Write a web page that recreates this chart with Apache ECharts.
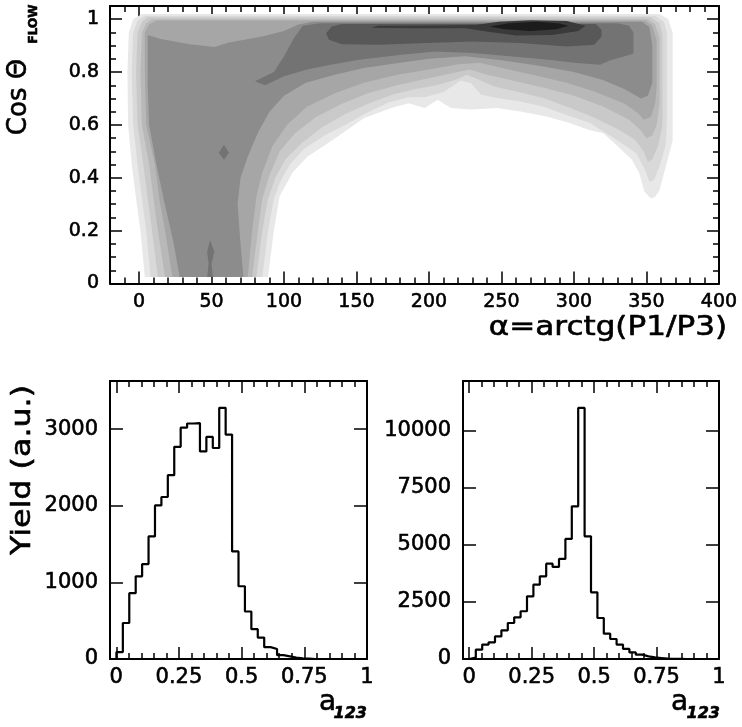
<!DOCTYPE html>
<html><head><meta charset="utf-8">
<script src="https://cdn.jsdelivr.net/npm/echarts@6/dist/echarts.min.js"></script>
<style>html,body{margin:0;padding:0;background:#fff}#c{width:742px;height:727px}</style>
</head><body><div id="c"></div>
<script>
// ---------- tick values ----------
const topXMajor = [0,50,100,150,200,250,300,350,400];
const topXMinor = [-10,10,20,30,40,60,70,80,90,110,120,130,140,160,170,180,190,210,220,230,240,260,270,280,290,310,320,330,340,360,370,380,390];
const topYMajor = [0,0.2,0.4,0.6,0.8,1];
const topYMinor = [0.05,0.1,0.15,0.25,0.3,0.35,0.45,0.5,0.55,0.65,0.7,0.75,0.85,0.9,0.95];
const histXMajor = [0,0.25,0.5,0.75,1];
const histXMinor = [0.05,0.1,0.15,0.2,0.3,0.35,0.4,0.45,0.55,0.6,0.65,0.7,0.8,0.85,0.9,0.95];
const hist1YMajor = [0,1000,2000,3000];
const hist2YMajor = [0,2500,5000,7500,10000];

// ---------- histogram data (40 bins from -0.025 to 1) ----------
const histMin = -0.025, histMax = 1;
const hist1Counts = [0,90,470,860,1080,1240,1600,2005,2115,2400,2770,3020,3075,3080,2710,2900,2755,3280,2930,1405,950,620,390,280,155,130,50,35,20,10,5,0,0,0,0,0,0,0,0,0];
const hist2Counts = [0,60,410,630,730,990,1255,1575,1825,2090,2745,3255,3620,4175,4030,4380,5255,6685,10990,5370,2920,1795,1110,875,630,440,290,190,115,70,45,20,10,5,0,0,0,0,0,0];

// ---------- contour levels: outlines in (alpha, cos) ----------
const levelL1 = [[4,0.025],[1,0.2],[-2,0.32],[-5,0.45],[-7.5,0.6],[-8,0.8],[-7,0.95],[-4,1.0],[2,1.02],
 [359,1.02],[365,1.0],[368,0.95],[368,0.54],[364.6,0.468],[359,0.354],[356,0.328],[353,0.322],
 [348.5,0.348],[345,0.417],[340,0.468],[330,0.52],[320,0.569],[311,0.58],[297,0.607],[281,0.632],[263,0.651],[247,0.664],[229,0.658],[215,0.664],[206,0.695],[197,0.664],[186,0.682],[174,0.664],[155,0.625],[142,0.575],[130,0.53],[116,0.48],[106,0.42],[100,0.36],[97,0.33],[93,0.2],[89,0.025]];
const levelL2 = [[8,0.025],[5,0.2],[2,0.32],[-1,0.45],[-4,0.6],[-5,0.8],[-4,0.95],[-1,0.995],[4,1.013],
 [356,1.013],[362,0.99],[364,0.95],[364,0.6],[363,0.52],[359,0.443],[355,0.39],[352,0.385],
 [349,0.43],[343,0.493],[329,0.545],[311,0.607],[295,0.638],[279,0.669],[263,0.689],[247,0.702],[236,0.714],[229,0.758],[222,0.768],[210,0.725],[197,0.705],[186,0.705],[172,0.685],[157,0.645],[142,0.6],[128,0.56],[114,0.51],[104,0.45],[97,0.38],[93,0.32],[89,0.2],[85,0.025]];
const levelL3 = [[13,0.025],[9,0.2],[6,0.32],[3,0.45],[-1,0.6],[-2,0.8],[-1,0.95],[2,0.99],[6,1.007],
 [353,1.007],[359,0.985],[361,0.94],[361,0.6],[358,0.52],[354,0.47],[351,0.46],
 [348,0.5],[342,0.545],[330,0.585],[313,0.63],[297,0.665],[280,0.7],[262,0.725],[245,0.745],[233,0.775],[226,0.79],[218,0.77],[205,0.75],[190,0.735],[175,0.715],[158,0.68],[142,0.64],[126,0.59],[112,0.53],[101,0.47],[94,0.4],[89,0.32],[85,0.2],[81,0.025]];
const levelL4 = [[18,0.025],[13,0.2],[10,0.32],[7,0.45],[2,0.6],[1,0.8],[2,0.95],[5,0.985],[9,1.0],
 [351,1.0],[356,0.98],[359,0.93],[359,0.68],[357,0.6],[354,0.56],[350,0.55],
 [346,0.58],[338,0.62],[320,0.67],[300,0.71],[280,0.74],[260,0.765],[240,0.79],[228,0.81],[215,0.795],[198,0.775],[178,0.75],[158,0.72],[140,0.68],[122,0.63],[108,0.57],[97,0.5],[90,0.41],[85,0.32],[82,0.2],[78,0.025]];
const levelL5 = [[23,0.025],[18,0.2],[14,0.32],[11,0.45],[5,0.6],[4,0.8],[4,0.95],[7,0.98],[12,0.995],
 [349,0.995],[354,0.975],[357,0.92],[357,0.75],[356,0.68],[353,0.63],[348,0.62],
 [344,0.645],[335,0.68],[315,0.725],[295,0.76],[275,0.785],[255,0.81],[235,0.835],[220,0.83],[200,0.81],[178,0.79],[155,0.76],[135,0.72],[116,0.67],[102,0.6],[92,0.52],[85,0.42],[81,0.33],[78,0.2],[75,0.025]];
const levelL6 = [[28,0.025],[24,0.15],[17,0.32],[12,0.45],[7,0.6],[6,0.75],[6,0.94],[15,0.925],[35,0.905],[52,0.895],[62,0.912],[85,0.935],[100,0.955],[110,0.98],[120,0.99],
 [347,0.99],[352,0.97],[354,0.9],[354,0.76],[351,0.71],[346,0.70],
 [343,0.71],[335,0.735],[320,0.77],[300,0.8],[275,0.825],[250,0.845],[225,0.86],[200,0.85],[180,0.835],[155,0.815],[135,0.79],[115,0.76],[100,0.71],[90,0.65],[82,0.57],[75,0.48],[70,0.4],[68,0.3],[70,0.15],[72,0.025]];
const levelL7 = [[80,0.765],[93,0.8],[100,0.86],[107,0.93],[113,0.975],[125,0.985],[330,0.985],[338,0.975],[341,0.95],[341,0.87],[335,0.86],[325,0.845],[318,0.828],[302,0.834],[282,0.847],[256,0.86],[230,0.872],[204,0.878],[181,0.866],[152,0.847],[132,0.828],[116,0.81],[100,0.784],[87,0.75]];
const levelL8 = [[129,0.947],[133,0.972],[140,0.982],[315,0.982],[319,0.96],[319,0.935],[314,0.903],[295,0.897],[263,0.91],[230,0.916],[198,0.91],[165,0.903],[140,0.905],[131,0.922]];
const levelL9 = [[160,0.968],[165,0.975],[200,0.976],[232,0.978],[248,0.99],[270,0.996],[295,0.993],[308,0.975],[303,0.955],[285,0.94],[260,0.938],[242,0.952],[225,0.966],[190,0.966]];
const levelL10 = [[242,0.972],[255,0.985],[275,0.99],[290,0.984],[296,0.975],[288,0.962],[270,0.955],[252,0.962]];
const spotA = [[55,0.495],[58.6,0.525],[62,0.495],[58.6,0.468]];
const spotB = [[47,0.12],[49,0.165],[52,0.12],[50,0.075],[51,0.025],[47,0.025],[48,0.075]];

const contourLevels = [levelL1,levelL2,levelL3,levelL4,levelL5,levelL6,levelL7,levelL8,levelL9,levelL10,spotA,spotB];
const contourColors = ['#e8e8e8','#d9d9d9','#c9c9c9','#b8b8b8','#a6a6a6','#8c8c8c','#737373','#585858','#3a3a3a','#1c1c1c','#737373','#737373'];

// ---------- helpers ----------
const FONT = 'DejaVu Sans';
function mkAxis(grid, pos, min, max, vals, len, label, line, fs, margin) {
  return {
    type: 'value', gridIndex: grid, position: pos, min: min, max: max,
    axisLine: { show: line, onZero: false, lineStyle: { color: '#000', width: 2 } },
    axisTick: { show: true, inside: true, length: len, customValues: vals, lineStyle: { color: '#000', width: 1.5 } },
    axisLabel: { show: label, customValues: vals, margin: margin || 10, fontSize: fs || 20, color: '#000', fontFamily: FONT,
      textBorderColor: '#000', textBorderWidth: 0.6,
      formatter: function (v) { return String(v); } },
    splitLine: { show: false }, minorTick: { show: false }, minorSplitLine: { show: false }
  };
}
function histPoints(counts) {
  const w = (histMax - histMin) / counts.length;
  const pts = counts.map(function (c, i) { return [histMin + i * w, c]; });
  pts.push([histMax, counts[counts.length - 1]]);
  return pts;
}
function txt(x, y, text, font, align, rot, sx) {
  return { type: 'text', x: x, y: y, rotation: rot || 0, scaleX: sx || 1,
    style: { text: text, font: font, fill: '#000', stroke: '#000', lineWidth: 0.6, align: align, verticalAlign: 'middle' } };
}

const xAxes = [
  mkAxis(0,'bottom',-20,400,topXMajor,12,true,true,19,9),
  mkAxis(0,'bottom',-20,400,topXMinor,6,false,false),
  mkAxis(0,'top',-20,400,topXMajor,12,false,true),
  mkAxis(0,'top',-20,400,topXMinor,6,false,false),
  mkAxis(1,'bottom',histMin,histMax,histXMajor,12,true,true,21,8),
  mkAxis(1,'bottom',histMin,histMax,histXMinor,6,false,false),
  mkAxis(1,'top',histMin,histMax,histXMajor,12,false,true),
  mkAxis(1,'top',histMin,histMax,histXMinor,6,false,false),
  mkAxis(2,'bottom',histMin,histMax,histXMajor,12,true,true,21,8),
  mkAxis(2,'bottom',histMin,histMax,histXMinor,6,false,false),
  mkAxis(2,'top',histMin,histMax,histXMajor,12,false,true),
  mkAxis(2,'top',histMin,histMax,histXMinor,6,false,false)
];
const yAxes = [
  mkAxis(0,'left',0,1.05,topYMajor,12,true,true,19,11),
  mkAxis(0,'left',0,1.05,topYMinor,6,false,false),
  mkAxis(0,'right',0,1.05,topYMajor,12,false,true),
  mkAxis(0,'right',0,1.05,topYMinor,6,false,false),
  mkAxis(1,'left',0,3630,hist1YMajor,13,true,true,21,12),
  mkAxis(1,'right',0,3630,hist1YMajor,13,false,true),
  mkAxis(2,'left',0,12170,hist2YMajor,13,true,true,21,12),
  mkAxis(2,'right',0,12170,hist2YMajor,13,false,true)
];

const chart = echarts.init(document.getElementById('c'), null, { renderer: 'canvas' });
chart.setOption({
  animation: false,
  backgroundColor: '#fff',
  grid: [
    { left: 110, top: 6, width: 609, height: 277.5, outerBoundsMode: 'none', containLabel: false },
    { left: 110, top: 381, width: 257, height: 278, outerBoundsMode: 'none', containLabel: false },
    { left: 463, top: 381, width: 256, height: 278, outerBoundsMode: 'none', containLabel: false }
  ],
  xAxis: xAxes,
  yAxis: yAxes,
  series: [
    {
      type: 'custom', xAxisIndex: 0, yAxisIndex: 0, silent: true, clip: true,
      data: contourLevels.map(function (_, i) { return [0, 0.5, i]; }),
      renderItem: function (params, api) {
        const poly = contourLevels[params.dataIndex];
        return { type: 'polygon', shape: { points: poly.map(function (p) { return api.coord(p); }) },
                 style: { fill: contourColors[params.dataIndex], stroke: null } };
      }
    },
    { type: 'line', xAxisIndex: 4, yAxisIndex: 4, step: 'end', symbol: 'none', silent: true,
      data: histPoints(hist1Counts), lineStyle: { color: '#000', width: 2.2 } },
    { type: 'line', xAxisIndex: 8, yAxisIndex: 6, step: 'end', symbol: 'none', silent: true,
      data: histPoints(hist2Counts), lineStyle: { color: '#000', width: 2.2 } }
  ],
  graphic: [
    txt(19, 97, 'Cos Θ', '26px "DejaVu Sans"', 'center', Math.PI / 2, 1),
    txt(34, 24, 'FLOW', 'bold 12px "DejaVu Sans"', 'center', Math.PI / 2, 1),
    txt(727, 328, 'α=arctg(P1/P3)', '27px "DejaVu Sans"', 'right', 0, 1.15),
    txt(23, 470, 'Yield (a.u.)', '26px "DejaVu Sans"', 'center', Math.PI / 2, 1.22),
    txt(319, 703, 'a', '28px "DejaVu Sans"', 'left', 0, 1),
    txt(367, 714, '123', 'italic bold 16px "DejaVu Sans"', 'right', 0, 1),
    txt(671, 703, 'a', '28px "DejaVu Sans"', 'left', 0, 1),
    txt(720, 714, '123', 'italic bold 16px "DejaVu Sans"', 'right', 0, 1)
  ]
});
</script>
</body></html>
